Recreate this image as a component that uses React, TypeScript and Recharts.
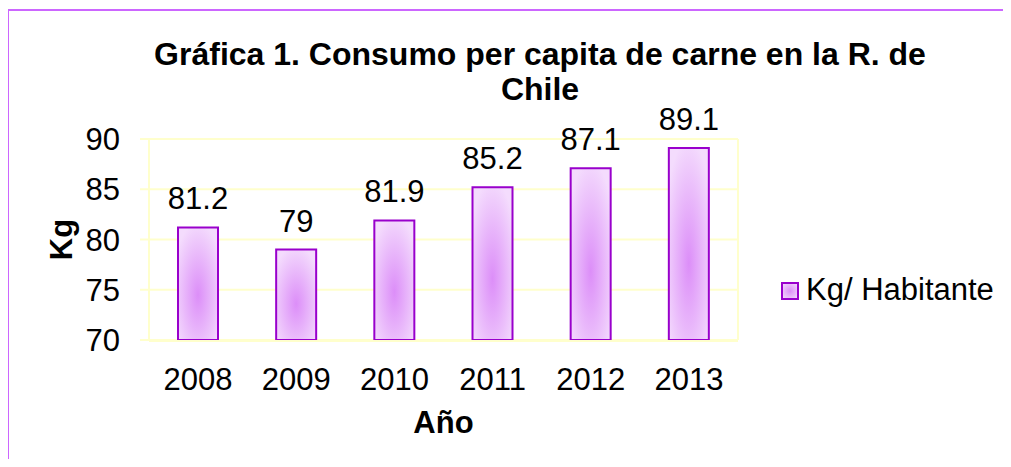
import { BarChart, Bar, XAxis, YAxis, CartesianGrid, Legend, LabelList } from "recharts";

const YEARS = ["2008", "2009", "2010", "2011", "2012", "2013"];
const KG_PER_CAPITA = [81.2, 79, 81.9, 85.2, 87.1, 89.1];
const Y_TICKS = [70, 75, 80, 85, 90];
const BAND_EDGES = [0, 1, 2, 3, 4, 5, 6];

const FONT = '"Liberation Sans", Arial, sans-serif';
const GRID = "#ffffcc";
const BAR_EDGE = "#9900cc";

const data = YEARS.map((year, i) => ({ year, kg: KG_PER_CAPITA[i] }));

function LegendBox() {
  return (
    <div style={{ position: "relative", width: 230, height: 35, fontFamily: FONT }}>
      <div
        style={{
          position: "absolute",
          left: 0,
          top: 10,
          width: 14,
          height: 14,
          border: `2px solid ${BAR_EDGE}`,
          background: "radial-gradient(circle, #dc8ef8 0%, #f2d8fc 100%)",
        }}
      />
      <span
        style={{
          position: "absolute",
          left: 25,
          top: 0,
          fontSize: 31,
          lineHeight: "35px",
          color: "#000",
          whiteSpace: "nowrap",
        }}
      >
        Kg/ Habitante
      </span>
    </div>
  );
}

export default function App() {
  return (
    <div style={{ position: "relative", width: 1003, height: 451, overflow: "hidden" }}>
      <div
        style={{
          position: "absolute",
          left: -1,
          top: 1,
          width: 1100,
          height: 500,
          borderTop: "2px solid #cc66ff",
          borderLeft: "2px solid #cc66ff",
        }}
      />
      <div
        style={{
          position: "absolute",
          left: 0,
          top: 29,
          width: 1064,
          textAlign: "center",
          fontFamily: FONT,
          fontWeight: "bold",
          fontSize: 32,
          lineHeight: "35px",
          color: "#000",
        }}
      >
        <div>Gráfica 1. Consumo per capita de carne en la R. de</div>
        <div>Chile</div>
      </div>
      <BarChart
        width={1003}
        height={451}
        data={data}
        margin={{ top: 131, right: 272, bottom: 117, left: 0 }}
        style={{ fontFamily: FONT }}
      >
        <defs>
          <radialGradient id="barFill" cx="0.5" cy="0.6" r="0.65">
            <stop offset="0%" stopColor="#dc8ef8" />
            <stop offset="100%" stopColor="#f4dcfd" />
          </radialGradient>
        </defs>
        <CartesianGrid vertical={false} stroke={GRID} strokeWidth={2} />
        <XAxis
          xAxisId="edges"
          type="number"
          domain={[0, 6]}
          ticks={BAND_EDGES}
          height={1}
          tick={false}
          tickSize={10}
          axisLine={{ stroke: GRID, strokeWidth: 2 }}
          tickLine={{ stroke: GRID, strokeWidth: 2 }}
        />
        <XAxis
          dataKey="year"
          height={1}
          interval={0}
          axisLine={false}
          tickLine={false}
          tickSize={10}
          tickMargin={18}
          tick={{ fontSize: 31, fill: "#000", fontFamily: FONT }}
          label={{
            content: ({ viewBox }: any) => (
              <text
                x={viewBox.x + viewBox.width / 2}
                y={viewBox.y + 93}
                textAnchor="middle"
                fontSize={31}
                fontWeight="bold"
                fontFamily={FONT}
                fill="#000"
              >
                Año
              </text>
            ),
          }}
        />
        <YAxis
          domain={[70, 90]}
          ticks={Y_TICKS}
          width={141}
          tickSize={9}
          tickMargin={20}
          axisLine={{ stroke: GRID, strokeWidth: 2 }}
          tickLine={{ stroke: GRID, strokeWidth: 2 }}
          tick={{ fontSize: 31, fill: "#000", fontFamily: FONT }}
          label={{
            content: ({ viewBox }: any) => {
              const x = viewBox.x + 64;
              const y = viewBox.y + viewBox.height / 2;
              return (
                <text
                  x={x}
                  y={y}
                  transform={`rotate(-90, ${x}, ${y})`}
                  textAnchor="middle"
                  fontSize={31}
                  fontWeight="bold"
                  fontFamily={FONT}
                  fill="#000"
                >
                  Kg
                </text>
              );
            },
          }}
        />
        <YAxis
          yAxisId="right"
          orientation="right"
          domain={[70, 90]}
          width={1}
          tick={false}
          tickLine={false}
          axisLine={{ stroke: GRID, strokeWidth: 2 }}
        />
        <Legend
          layout="vertical"
          align="center"
          verticalAlign="middle"
          wrapperStyle={{ position: "absolute", left: 773, top: 264, width: 230 }}
          content={() => <LegendBox />}
        />
        <Bar
          dataKey="kg"
          name="Kg/ Habitante"
          barSize={40}
          fill="url(#barFill)"
          stroke={BAR_EDGE}
          strokeWidth={2}
          isAnimationActive={false}
        >
          <LabelList
            dataKey="kg"
            position="top"
            offset={18}
            fill="#000"
            fontSize={31}
            fontFamily={FONT}
          />
        </Bar>
      </BarChart>
    </div>
  );
}
